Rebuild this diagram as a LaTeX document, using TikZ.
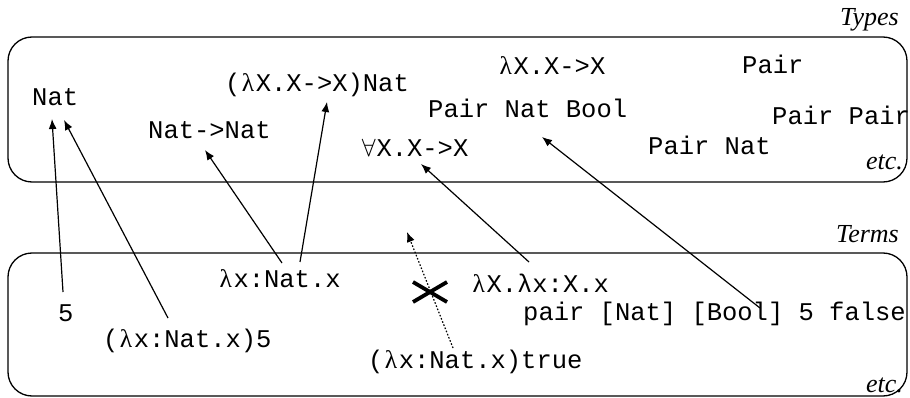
\documentclass[tikz,border=0pt]{standalone}
\usepackage{fontspec}
\setmonofont{Liberation Mono}
\newfontfamily\serifl{Liberation Serif}
\usetikzlibrary{arrows.meta,shapes.misc}
\newcommand{\lam}{\makebox[0.6em]{\serifl λ}}
\newcommand{\lamm}{λ}
\newcommand{\fa}{\makebox[0.6em]{\serifl$\forall$}}
\begin{document}
\begin{tikzpicture}[x=1pt,y=-1pt,
  tt/.style={font=\fontsize{25.5}{28}\ttfamily, inner sep=0pt, anchor=base west},
  lbl/.style={font=\fontsize{26}{28}\serifl\itshape, inner sep=0pt, anchor=base east},
  area/.style={draw, line width=1.3pt, rounded corners=24pt},
  arr/.style={line width=1.2pt, -{Latex[length=10pt,width=8pt]}},
  dotarr/.style={line width=1.2pt, dash pattern=on 1.6pt off 1.8pt, -{Latex[length=10pt,width=8pt]}},
  xmark/.style={draw, cross out, line width=3.8pt, minimum width=34pt, minimum height=20pt, inner sep=0pt, outer sep=0pt}]
\useasboundingbox (0,0) rectangle (910,398);
% areas
\draw[area] (8,37) rectangle (907,182);
\draw[area] (8,253) rectangle (907,396);
% labels
\node[lbl] (types) at (899,26) {Types};
\node[lbl] (etc1) at (903,170) {etc.};
\node[lbl] (terms) at (899,243) {Terms};
\node[lbl] (etc2) at (903,392) {etc.};
% types
\node[tt] (nat) at (32,106) {Nat};
\node[tt] (tapp) at (225,92) {(\lam X.X->X)Nat};
\node[tt] (natnat) at (148,139) {Nat->Nat};
\node[tt] (tlamT) at (498,75) {\lam X.X->X};
\node[tt] (pair) at (742,74) {Pair};
\node[tt] (pnb) at (428,118) {Pair Nat Bool};
\node[tt] (pp) at (772,125) {Pair Pair};
\node[tt] (forall) at (361,157) {\fa X.X->X};
\node[tt] (pn) at (648,155) {Pair Nat};
% terms
\node[tt] (lam) at (218,287) {\lam x:Nat.x};
\node[tt] (five) at (58,321) {5};
\node[tt] (app5) at (103,347) {(\lam x:Nat.x)5};
\node[tt] (apptrue) at (368,368) {(\lam x:Nat.x)true};
\node[tt] (tlam) at (471,292) {\lam X.\lamm x:X.x};
\node[tt] (pairt) at (523,320) {pair [Nat] [Bool] 5 false};
\coordinate (nowhere) at (407,232);
\node[xmark] (cross) at (430,292) {};
% connectors
\draw[arr] ([shift={(5,-29)}]five.base west) -- ([shift={(20,13)}]nat.base west);
\draw[arr] ([shift={(65,-29)}]app5.base west) -- ([shift={(32,14)}]nat.base west);
\draw[arr] ([shift={(64,-24)}]lam.base west) -- ([shift={(57,11)}]natnat.base west);
\draw[arr] ([shift={(82,-25)}]lam.base west) -- ([shift={(102,10)}]tapp.base west);
\draw[arr] ([shift={(58,-30)}]tlam.base west) -- ([shift={(60,7)}]forall.base west);
\draw[arr] ([shift={(237,-12)}]pairt.base west) -- ([shift={(114,19)}]pnb.base west);
\draw[dotarr] ([shift={(85,-20)}]apptrue.base west) -- (nowhere);
\end{tikzpicture}
\end{document}
